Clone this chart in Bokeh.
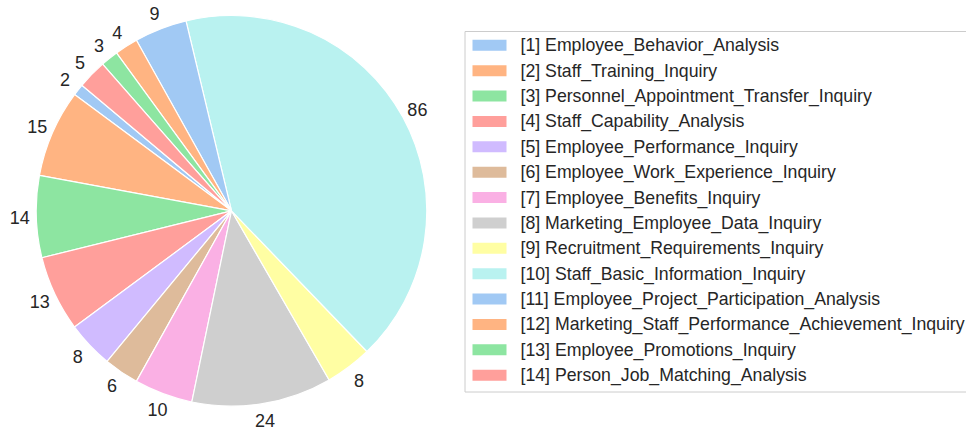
import numpy as np
from bokeh.plotting import figure
from bokeh.models import ColumnDataSource, Range1d
from bokeh.core.properties import value
from bokeh.embed import file_html
from bokeh.resources import INLINE

categories = [
    "Employee_Behavior_Analysis",
    "Staff_Training_Inquiry",
    "Personnel_Appointment_Transfer_Inquiry",
    "Staff_Capability_Analysis",
    "Employee_Performance_Inquiry",
    "Employee_Work_Experience_Inquiry",
    "Employee_Benefits_Inquiry",
    "Marketing_Employee_Data_Inquiry",
    "Recruitment_Requirements_Inquiry",
    "Staff_Basic_Information_Inquiry",
    "Employee_Project_Participation_Analysis",
    "Marketing_Staff_Performance_Achievement_Inquiry",
    "Employee_Promotions_Inquiry",
    "Person_Job_Matching_Analysis",
]
counts = [2, 15, 14, 13, 8, 6, 10, 24, 8, 86, 9, 4, 3, 5]
palette = ["#a1c9f4", "#ffb482", "#8de5a1", "#ff9f9b", "#d0bbff",
           "#debb9b", "#fab0e4", "#cfcfcf", "#fffea3", "#b9f2f0"]

W, H = 966, 430
CX, CY, R = 231.0, H - 210.3, 195.3
START = np.deg2rad(140.0)
LABEL_R = 1.085 * R
TEXT_COLOR = "#262626"
FONT = value("Liberation Sans")

vals = np.array(counts, dtype=float)
frac = vals / vals.sum()
ends = START + np.cumsum(frac) * 2 * np.pi
starts = ends - frac * 2 * np.pi
mids = (starts + ends) / 2
cols = [palette[i % len(palette)] for i in range(len(counts))]

src = ColumnDataSource(dict(
    start=starts, end=ends, color=cols,
    lx=CX + LABEL_R * np.cos(mids), ly=CY + LABEL_R * np.sin(mids),
    lab=[str(c) for c in counts],
))

p = figure(width=W, height=H, x_range=Range1d(0, W), y_range=Range1d(0, H),
           output_backend="svg", toolbar_location=None,
           x_axis_type=None, y_axis_type=None, min_border=0)
p.grid.visible = False
p.outline_line_color = None
p.background_fill_color = "white"
p.border_fill_color = "white"

p.wedge(x=CX, y=CY, radius=R, start_angle="start", end_angle="end",
        direction="anticlock", fill_color="color", line_color="white",
        line_width=1.2, source=src)
p.text(x="lx", y="ly", text="lab", source=src, text_align="center",
       text_baseline="middle", text_font=FONT, text_font_size="18px",
       text_color=TEXT_COLOR)

# legend (manual)
LEG_L, LEG_T, LEG_B = 464.5, 31.0, 391.5
ROW0, ROW_STEP = 44.8, 25.38
rows = ROW0 + ROW_STEP * np.arange(len(categories))
p.quad(left=LEG_L, right=W + 20, top=H - LEG_T, bottom=H - LEG_B,
       fill_color="white", line_color="#cccccc", line_width=1)
leg = ColumnDataSource(dict(
    y=H - rows, color=cols,
    txt=[f"[{i+1}] {c}" for i, c in enumerate(categories)],
))
p.rect(x=489, y="y", width=34, height=11, fill_color="color",
       line_color=None, source=leg)
p.text(x=520, y="y", text="txt", source=leg, text_align="left",
       text_baseline="middle", text_font=FONT, text_font_size="17.7px",
       text_color=TEXT_COLOR)

open("out.html", "w").write(file_html(p, INLINE))
